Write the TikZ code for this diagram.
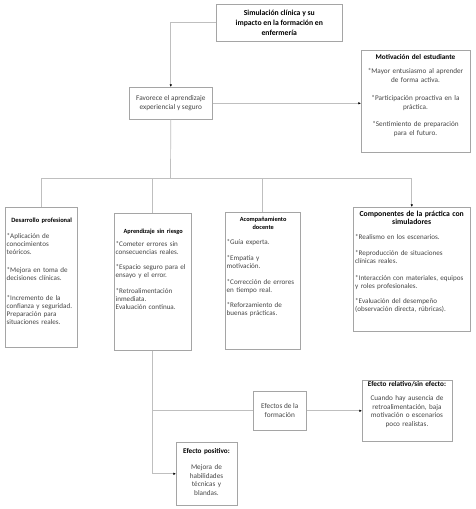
\documentclass[tikz,border=0pt]{standalone}
\usepackage{fontspec}
\setmainfont{Carlito}
\usetikzlibrary{arrows.meta,shadows}
\definecolor{linegray}{RGB}{191,191,191}
\definecolor{boxgray}{RGB}{165,165,165}
\definecolor{shadegray}{RGB}{105,105,105}
\definecolor{txtgray}{RGB}{70,70,70}
\newcommand\ttl[1]{\makebox[\linewidth]{\color{black}\bfseries #1}}
\begin{document}
\begin{tikzpicture}[x=1pt,y=-1pt,
 box/.style={draw=boxgray, line width=0.6pt, fill=white, inner sep=0pt, anchor=north west,
   general shadow={shadow xshift=-0.8pt, shadow yshift=-0.8pt, fill=shadegray}},
 body/.style={inner sep=0pt, text=txtgray, font=\fontsize{7.1}{8}\selectfont},
 conn/.style={draw=linegray, line width=0.7pt},
 arr/.style={conn, -{Latex[length=2.6pt,width=2.4pt,color=black]}},
]
\useasboundingbox (0,0) rectangle (475,509);
\fill[white] (0,0) rectangle (475,509);

% boxes
\node[box, minimum width=126pt, minimum height=37pt, align=center,
  font=\fontsize{7.7}{10}\selectfont\bfseries] (title) at (216,4)
  {Simulación clínica y su\\impacto en la formación en\\enfermería};
\node[box, minimum width=83pt, minimum height=32pt, align=center, text=txtgray,
  font=\fontsize{7.3}{9}\selectfont] (fav) at (129,87)
  {Favorece el aprendizaje\\experiencial y seguro};
\node[box, minimum width=109pt, minimum height=102pt] (mot) at (361,50) {};
\node[box, minimum width=72pt, minimum height=140pt] (des) at (5,207) {};
\node[box, minimum width=77pt, minimum height=137pt] (apr) at (114,213) {};
\node[box, minimum width=75pt, minimum height=137pt] (aco) at (225,212) {};
\node[box, minimum width=117pt, minimum height=124pt] (com) at (353,207) {};
\node[box, minimum width=53pt, minimum height=39pt, align=center, text=txtgray,
  font=\fontsize{7.3}{9}\selectfont] (efe) at (253,391) {Efectos de la\\formación};
\node[box, minimum width=90pt, minimum height=61pt] (efr) at (362,380) {};
\node[box, minimum width=61pt, minimum height=63pt] (efp) at (176,442) {};

% texts
\node[body, anchor=north, text width=108pt, align=center, font=\fontsize{7.2}{8.5}\selectfont] (motT) at (415.5,54)
  {{\color{black}\bfseries Motivación del estudiante}\\[6pt]
   *Mayor entusiasmo al aprender\\de forma activa.\\[10pt]
   *Participación proactiva en la\\práctica.\\[9pt]
   *Sentimiento de preparación\\para el futuro.};
\node[body, anchor=north west, text width=74pt, align=left] (desT) at (6.5,217.5)
  {\makebox[70pt]{\color{black}\bfseries\fontsize{6.5}{8}\selectfont Desarrollo profesional}\\[8pt]
   *Aplicación de\\conocimientos\\teóricos.\\[10pt]
   *Mejora en toma de\\decisiones clínicas.\\[12pt]
   *Incremento de la\\confianza y seguridad.\\Preparación para\\situaciones reales.};
\node[body, anchor=north west, text width=77pt, align=left] (aprT) at (115.5,228.5)
  {\makebox[75pt]{\color{black}\bfseries\fontsize{6.3}{8}\selectfont Aprendizaje sin riesgo}\\[5pt]
   *Cometer errores sin\\consecuencias reales.\\[7pt]
   *Espacio seguro para el\\ensayo y el error.\\[8pt]
   *Retroalimentación\\inmediata.\\Evaluación continua.};
\node[body, anchor=north west, text width=74pt, align=left] (acoT) at (226.5,216.5)
  {\makebox[73pt]{\color{black}\bfseries\fontsize{6.3}{8}\selectfont Acompañamiento}\\
   \makebox[73pt]{\color{black}\bfseries\fontsize{6.3}{8}\selectfont docente}\\[7pt]
   *Guía experta.\\[8pt]
   *Empatía y\\motivación.\\[8pt]
   *Corrección de errores\\en tiempo real.\\[7pt]
   *Reforzamiento de\\buenas prácticas.};
\node[body, anchor=north west, text width=116pt, align=left] (comT) at (355,210.5)
  {\makebox[113pt]{\color{black}\bfseries\fontsize{7.7}{10}\selectfont Componentes de la práctica con}\\
   \makebox[113pt]{\color{black}\bfseries\fontsize{7.7}{10}\selectfont simuladores}\\[7pt]
   *Realismo en los escenarios.\\[8pt]
   *Reproducción de situaciones\\clínicas reales.\\[9pt]
   *Interacción con materiales, equipos\\y roles profesionales.\\[7pt]
   *Evaluación del desempeño\\(observación directa, rúbricas).};
\node[body, anchor=north, text width=90pt, align=center, font=\fontsize{7.2}{8.7}\selectfont] (efrT) at (407,381.5)
  {{\color{black}\bfseries Efecto relativo/sin efecto:}\\[5pt]
   Cuando hay ausencia de\\retroalimentación, baja\\motivación o escenarios\\poco realistas.};
\node[body, anchor=north, text width=61pt, align=center, font=\fontsize{7.2}{8.7}\selectfont] (efpT) at (206.5,448.5)
  {{\color{black}\bfseries Efecto positivo:}\\[7pt]
   Mejora de\\habilidades\\técnicas y\\blandas.};

% connectors
\coordinate (bus) at (170.5,178);
\draw[arr] (title.west) -| (fav.north);
\draw[arr] (fav.east) -- (fav.east -| mot.west);
\draw[conn] (fav.south) -- (bus);
\draw[conn] (des.north) -- (des.north |- bus) -- (com.north |- bus);
\draw[arr] (com.north |- bus) -- (com.north);
\draw[conn] (apr.north |- bus) -- (apr.north);
\draw[conn] (aco.north |- bus) -- (aco.north);
\draw[arr] (apr.south) |- (efp.west);
\draw[conn] (apr.south |- efe.west) -- (efe.west);
\draw[arr] (efe.east) -- (efr.west);
\end{tikzpicture}
\end{document}
